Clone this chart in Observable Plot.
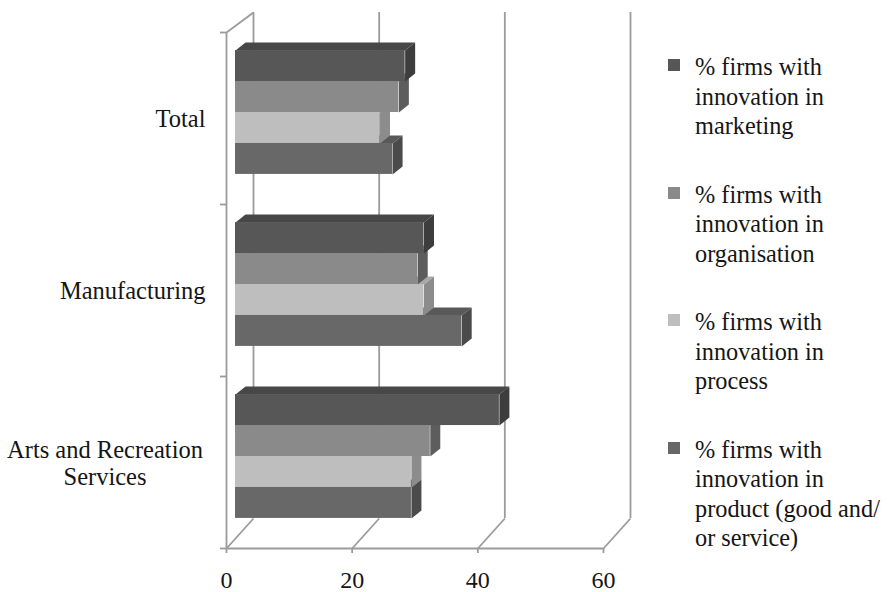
<!DOCTYPE html>
<html>
<head>
<meta charset="utf-8">
<script src="https://cdn.jsdelivr.net/npm/d3@7"></script>
<script src="https://cdn.jsdelivr.net/npm/@observablehq/plot@0.6"></script>
<style>
  body { margin: 0; background: #fff; }
  #chart { position: relative; width: 891px; height: 592px; font-family: "Liberation Serif", "Times New Roman", serif; color: #151515; }
  #chart svg { position: absolute; left: 0; top: 0; }
  .legend { position: absolute; left: 668px; top: 52px; }
  .item { display: flex; align-items: flex-start; font-size: 24.3px; line-height: 29.5px; margin-bottom: 39px; }
  .sw { width: 12px; height: 12px; margin-top: 7px; margin-right: 15px; flex: none; }
</style>
</head>
<body>
<div id="chart"></div>
<script>
// Categories, bottom to top
const categories = ["Arts and Recreation Services", "Manufacturing", "Total"];
const categoryLabels = ["Arts and Recreation\nServices", "Manufacturing", "Total"];

// Series, top bar to bottom bar within each group
const seriesKeys = ["marketing", "organisation", "process", "product"];
const legendLabels = [
  ["% firms with", "innovation in", "marketing"],
  ["% firms with", "innovation in", "organisation"],
  ["% firms with", "innovation in", "process"],
  ["% firms with", "innovation in", "product (good and/", "or service)"]
];

// % of firms, in categories order (Arts, Manufacturing, Total)
const marketing    = [42, 30, 27];
const organisation = [31, 29, 26];
const process      = [28, 30, 23];
const product      = [28, 36, 25];
const seriesValues = [marketing, organisation, process, product];

const xTicks = [0, 20, 40, 60];

// Face colours per series: front, top, side
const colors = {
  marketing:    {front: "#575757", top: "#474747", side: "#3d3d3d"},
  organisation: {front: "#8a8a8a", top: "#7a7a7a", side: "#5d5d5d"},
  process:      {front: "#bebebe", top: "#a9a9a9", side: "#8c8c8c"},
  product:      {front: "#686868", top: "#595959", side: "#4b4b4b"}
};

// Frame geometry
const W = 640, H = 592;
const mL = 226, mR = 37, mT = 32, mB = 44;
const pxX = 60 / (W - mL - mR);   // data units per pixel
const pxY = 3 / (H - mT - mB);

// Back wall depth (pixels) and bar extrusion
const wallDX = 27, wallDYTop = 20, wallDYBottom = 30;
const barDX = 9, barDY = -6, extX = 10 * pxX, extY = 8 * pxY;
const barH = 0.18;
const axisColor = "#9b9b9b";
const textColor = "#151515";

const rows = [];
seriesKeys.forEach((key, s) => {
  categories.forEach((cat, c) => {
    const yTop = c + 0.5 + 2 * barH - s * barH;
    rows.push({key, s, c, cat, v: seriesValues[s][c], yTop, yBot: yTop - barH});
  });
});

function topFace(r) {
  return [[0, r.yTop], [r.v, r.yTop], [r.v + extX, r.yTop + extY], [extX, r.yTop + extY]]
    .map(([x, y]) => ({x, y, id: r.key + r.c}));
}
function sideFace(r) {
  return [[r.v, r.yBot], [r.v, r.yTop], [r.v + extX, r.yTop + extY], [r.v + extX, r.yBot + extY]]
    .map(([x, y]) => ({x, y, id: r.key + r.c}));
}

const barMarks = [];
// paint from the bottom bar of each group upwards
for (let s = seriesKeys.length - 1; s >= 0; s--) {
  const key = seriesKeys[s];
  const rs = rows.filter(r => r.s === s);
  barMarks.push(
    Plot.line(rs.flatMap(topFace), {x: "x", y: "y", z: "id", fill: colors[key].top, stroke: "none", curve: "linear-closed", dx: barDX, dy: barDY}),
    Plot.line(rs.flatMap(sideFace), {x: "x", y: "y", z: "id", fill: colors[key].side, stroke: "none", curve: "linear-closed", dx: barDX, dy: barDY}),
    Plot.rect(rs, {x1: 0, x2: "v", y1: "yBot", y2: "yTop", fill: colors[key].front, dx: barDX, dy: barDY})
  );
}

const chart = Plot.plot({
  width: W, height: H,
  marginLeft: mL, marginRight: mR, marginTop: mT, marginBottom: mB,
  x: {domain: [0, 60], axis: null},
  y: {domain: [0, 3], axis: null},
  style: {fontFamily: "'Liberation Serif', 'Times New Roman', serif", fontSize: "24px", color: textColor, background: "transparent"},
  marks: [
    // back wall verticals
    Plot.ruleX(xTicks, {x: d => d + wallDX * pxX, y1: wallDYBottom * pxY, y2: 3 + wallDYTop * pxY, stroke: axisColor, strokeWidth: 1.8}),
    // floor diagonals
    Plot.link(xTicks, {x1: d => d, y1: 0, x2: d => d + wallDX * pxX, y2: wallDYBottom * pxY, stroke: axisColor, strokeWidth: 1.8}),
    // side wall top edge
    Plot.link([0], {x1: 0, y1: 3, x2: wallDX * pxX, y2: 3 + wallDYTop * pxY, stroke: axisColor, strokeWidth: 1.8}),
    // front axes
    Plot.ruleX([0], {y1: 0, y2: 3, stroke: axisColor, strokeWidth: 1.8}),
    Plot.ruleY([0], {x1: 0, x2: 60, stroke: axisColor, strokeWidth: 1.8}),
    Plot.ruleY([0, 1, 2, 3], {x1: -6 * pxX, x2: 0, stroke: axisColor, strokeWidth: 1.8}),
    Plot.ruleX(xTicks, {y1: 0, y2: -5 * pxY, stroke: axisColor, strokeWidth: 1.8}),
    // bars
    ...barMarks,
    // x tick labels
    Plot.text(xTicks, {x: d => d, y: 0, dy: 32, text: d => String(d), textAnchor: "middle", fontSize: 24, fill: textColor}),
    // category labels
    Plot.text([0, 1, 2].filter(c => !categoryLabels[c].includes("\n")), {x: 0, y: c => c + 0.5, dx: -21, dy: 1, text: c => categoryLabels[c], textAnchor: "end", fontSize: 24.5, fill: textColor}),
    Plot.text([0, 1, 2].filter(c => categoryLabels[c].includes("\n")), {x: 0, y: c => c + 0.5, dx: -121.5, text: c => categoryLabels[c], textAnchor: "middle", lineHeight: 1.12, fontSize: 24.5, fill: textColor})
  ]
});

const root = document.getElementById("chart");
root.appendChild(chart);

const legend = document.createElement("div");
legend.className = "legend";
seriesKeys.forEach((key, i) => {
  const item = document.createElement("div");
  item.className = "item";
  const sw = document.createElement("div");
  sw.className = "sw";
  sw.style.background = colors[key].front;
  const label = document.createElement("div");
  label.innerHTML = legendLabels[i].join("<br>");
  item.appendChild(sw);
  item.appendChild(label);
  legend.appendChild(item);
});
root.appendChild(legend);
</script>
</body>
</html>
